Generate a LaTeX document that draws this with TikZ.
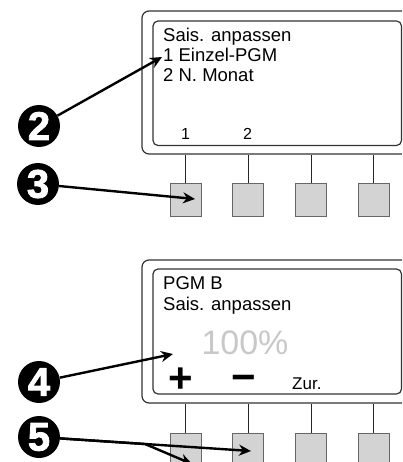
\documentclass[tikz,border=0pt]{standalone}
\usepackage{fontspec}
\setmainfont{Liberation Sans}
\newfontfamily\badgefont{Liberation Sans Bold}[FakeBold=2]
\usetikzlibrary{arrows.meta}
\definecolor{keygray}{HTML}{D3D3D3}
\definecolor{lcdgray}{HTML}{C8C8C8}
\begin{document}
\begin{tikzpicture}[x=1pt,y=-1pt,
  frame/.style={draw=black!80, line width=1.2pt, rounded corners=7pt, inner sep=0pt},
  screen/.style={draw=black!80, line width=1.2pt, rounded corners=5pt, inner sep=0pt},
  stem/.style={draw=black!85, line width=1pt},
  key/.style={draw=black!60, fill=keygray, line width=1pt, minimum width=31pt, minimum height=32pt, inner sep=0pt},
  badge/.style={circle, fill=black, text=white, minimum size=42pt, inner sep=0pt, font=\fontsize{40}{40}\badgefont},
  callout/.style={line width=2.4pt, line join=round, -{Stealth[length=12pt,width=11pt]}},
  lcd/.style={anchor=base west, inner sep=0pt, font=\fontsize{18.5}{20}\selectfont},
  softkey/.style={anchor=base, inner sep=0pt, font=\fontsize{16}{16}\selectfont},
  bigsign/.style={anchor=base, inner sep=0pt, font=\fontsize{42}{42}\bfseries},
]
\useasboundingbox (0,0) rectangle (402,462);
\begin{scope}
\clip (0,0) rectangle (402,462);
% ---------- top panel ----------
\node[frame, minimum width=273pt, minimum height=143pt] (f1) at (278.5,82.5) {};
\node[screen, minimum width=248.5pt, minimum height=124.5pt] (s1) at (277.25,83.25) {};
\node[lcd] (t1a) at (163,41.5) {Sais. anpassen};
\node[lcd] (t1b) at (163,61.5) {1 Einzel-PGM};
\node[lcd] (t1c) at (163,82) {2 N. Monat};
\node[softkey] (sk1) at (185.5,139.5) {1};
\node[softkey] (sk2) at (247.5,139.5) {2};
\node[key] (k1) at (185.5,200) {};
\node[key] (k2) at (248,200) {};
\node[key] (k3) at (311,200) {};
\node[key] (k4) at (373.5,200) {};
\foreach \k in {k1,k2,k3,k4} \draw[stem] (\k.north) -- (\k.north |- f1.south);
% ---------- bottom panel ----------
\node[frame, minimum width=273pt, minimum height=143pt] (f2) at (278.5,331.5) {};
\node[screen, minimum width=248.5pt, minimum height=125pt] (s2) at (277.25,331.5) {};
\node[lcd] (t2a) at (163,289) {PGM B};
\node[lcd] (t2b) at (163,310.5) {Sais. anpassen};
\node[anchor=base, inner sep=0pt, text=lcdgray, font=\fontsize{34}{34}\selectfont] (pct) at (245,354) {100\%};
\node[bigsign] (plus) at (181,392) {+};
\node[bigsign] (minus) at (243.5,391) {−};
\node[anchor=base west, inner sep=0pt, font=\fontsize{17}{17}\selectfont] (zur) at (292,389.5) {Zur.};
\node[key] (m1) at (185.5,449) {};
\node[key] (m2) at (248,449) {};
\node[key] (m3) at (311,449) {};
\node[key] (m4) at (373.5,449) {};
\foreach \k in {m1,m2,m3,m4} \draw[stem] (\k.north) -- (\k.north |- f2.south);
% ---------- callouts ----------
\node[badge] (b2) at (39,126) {2};
\node[badge] (b3) at (38,184) {3};
\node[badge] (b4) at (39,382) {4};
\node[badge] (b5) at (39,437) {5};
\coordinate (a2) at (162,57);
\coordinate (a3) at (195,199);
\coordinate (a4) at (173,354);
\coordinate (a5) at (251,451);
\coordinate (j5) at (145,444);
\coordinate (a5b) at (192,464);
\draw[callout] (b2) -- (a2);
\draw[callout] (b3) -- (a3);
\draw[callout] (b4) -- (a4);
\draw[callout] (b5) -- (a5);
\draw[callout] (b5) -- (j5) -- (a5b);
\end{scope}
\end{tikzpicture}
\end{document}
